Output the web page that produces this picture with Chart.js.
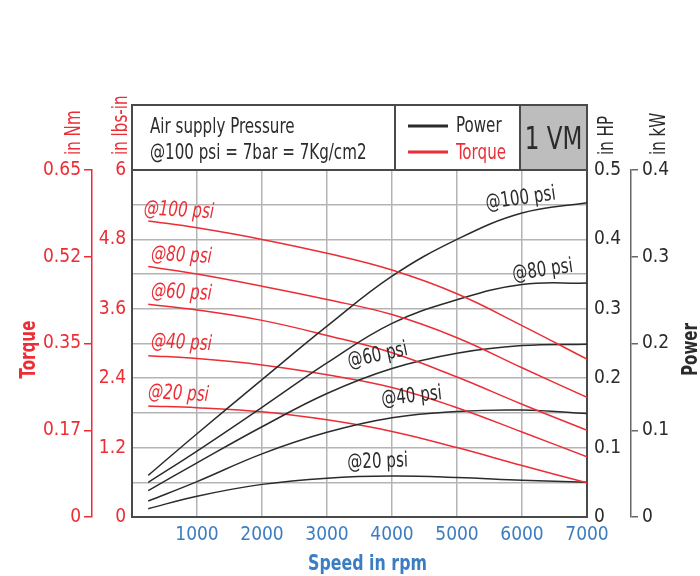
<!DOCTYPE html>
<html>
<head>
<meta charset="utf-8">
<script src="https://cdn.jsdelivr.net/npm/chart.js@4.4.1/dist/chart.umd.min.js"></script>
<style>
html, body { margin: 0; padding: 0; background: #fff; }
</style>
</head>
<body>
<canvas id="myChart" width="700" height="576"></canvas>
<script>
// data
var speedRpm = [250, 1000, 2000, 3000, 4000, 5000, 6000, 7000];
var pressures = ['@100 psi', '@80 psi', '@60 psi', '@40 psi', '@20 psi'];

// torque in lbs-in
var torque100 = [5.12, 5.00, 4.80, 4.56, 4.27, 3.86, 3.31, 2.73];
var torque80 = [4.33, 4.20, 3.99, 3.76, 3.50, 3.10, 2.58, 2.07];
var torque60 = [3.68, 3.58, 3.40, 3.14, 2.84, 2.42, 1.95, 1.50];
var torque40 = [2.79, 2.74, 2.63, 2.46, 2.24, 1.89, 1.47, 1.04];
var torque20 = [1.92, 1.89, 1.82, 1.68, 1.48, 1.20, 0.89, 0.59];

// power in HP
var power100 = [0.060, 0.120, 0.198, 0.275, 0.347, 0.400, 0.438, 0.453];
var power80 = [0.050, 0.095, 0.158, 0.222, 0.279, 0.313, 0.335, 0.337];
var power60 = [0.038, 0.078, 0.130, 0.178, 0.214, 0.236, 0.247, 0.249];
var power40 = [0.023, 0.051, 0.091, 0.122, 0.143, 0.152, 0.154, 0.149];
var power20 = [0.012, 0.030, 0.047, 0.056, 0.059, 0.057, 0.053, 0.050];

// axis ticks
var speedTicks = [1000, 2000, 3000, 4000, 5000, 6000, 7000];
var lbsTicks = [0, 0.6, 1.2, 1.8, 2.4, 3.0, 3.6, 4.2, 4.8, 5.4, 6];
var lbsLabels = ['0', '', '1.2', '', '2.4', '', '3.6', '', '4.8', '', '6'];
var nmTicks = [0, 0.1625, 0.325, 0.4875, 0.65];
var nmLabels = ['0', '0.17', '0.35', '0.52', '0.65'];
var hpTicks = [0, 0.05, 0.1, 0.15, 0.2, 0.25, 0.3, 0.35, 0.4, 0.45, 0.5];
var hpLabels = ['0', '', '0.1', '', '0.2', '', '0.3', '', '0.4', '', '0.5'];
var kwTicks = [0, 0.1, 0.2, 0.3, 0.4];
var kwLabels = ['0', '0.1', '0.2', '0.3', '0.4'];

var RED = '#ec2d35';
var DARK = '#2b2b2b';
var BLUE = '#3c7dc2';
var GRID = '#b4b4b4';
var FRAME = '#4a4a4a';
var FONT = "'DejaVu Sans Condensed', 'DejaVu Sans', sans-serif";
var SX = 0.8; // squeeze drawn text to look like a condensed face

// where the curve names sit (rpm, lbs-in), and their tilt
var torqueTags = [
    {rpm: 175, at: 5.23, rot: 3},
    {rpm: 288, at: 4.45, rot: 3},
    {rpm: 288, at: 3.81, rot: 3},
    {rpm: 288, at: 2.94, rot: 3},
    {rpm: 242, at: 2.06, rot: 3}
];
var powerTags = [
    {rpm: 5980, at: 5.50, rot: -8},
    {rpm: 6318, at: 4.26, rot: -8},
    {rpm: 3780, at: 2.79, rot: -12},
    {rpm: 4303, at: 2.08, rot: -6},
    {rpm: 3780, at: 0.95, rot: -2}
];

function pts(arr) {
    return speedRpm.map(function (x, i) { return {x: x, y: arr[i]}; });
}

function curve(label, arr, axis, color) {
    return {
        label: label,
        data: pts(arr),
        yAxisID: axis,
        borderColor: color,
        borderWidth: 1.5,
        pointRadius: 0,
        fill: false,
        tension: 0.4
    };
}

var torqueSets = [torque100, torque80, torque60, torque40, torque20];
var powerSets = [power100, power80, power60, power40, power20];
var datasets = [];
for (var i = 0; i < 5; i++) {
    datasets.push(curve('Torque ' + pressures[i], torqueSets[i], 'yT', RED));
    datasets.push(curve('Power ' + pressures[i], powerSets[i], 'yHP', DARK));
}

function setTicks(list) {
    return function (scale) {
        scale.ticks = list.map(function (v) { return {value: v}; });
    };
}

// text helper: x,y anchor, rotation in degrees, horizontal squeeze
function txt(ctx, text, x, y, font, color, align, rot, base) {
    ctx.save();
    ctx.translate(x, y);
    ctx.rotate((rot || 0) * Math.PI / 180);
    ctx.scale(SX, 1);
    ctx.font = font;
    ctx.fillStyle = color;
    ctx.textAlign = align || 'left';
    ctx.textBaseline = base || 'alphabetic';
    ctx.fillText(text, 0, 0);
    ctx.restore();
}

var decor = {
    id: 'decor',
    beforeDraw: function (chart) {
        var ctx = chart.ctx;
        ctx.save();
        ctx.fillStyle = '#fff';
        ctx.fillRect(0, 0, chart.width, chart.height);
        ctx.restore();
    },
    afterDatasetsDraw: function (chart) {
        var ctx = chart.ctx;
        var xs = chart.scales.x, ys = chart.scales.yT;
        for (var i = 0; i < pressures.length; i++) {
            var t = torqueTags[i];
            txt(ctx, pressures[i], xs.getPixelForValue(t.rpm), ys.getPixelForValue(t.at),
                'italic 21px ' + FONT, RED, 'left', t.rot);
            var p = powerTags[i];
            txt(ctx, pressures[i], xs.getPixelForValue(p.rpm), ys.getPixelForValue(p.at),
                '21px ' + FONT, DARK, 'center', p.rot, 'middle');
        }
    },
    afterDraw: function (chart) {
        var ctx = chart.ctx;
        var a = chart.chartArea;
        var top = a.top - 65;
        var div1 = a.left + 263, div2 = a.left + 388;

        ctx.save();
        // grey cell
        ctx.fillStyle = '#bdbdbd';
        ctx.fillRect(div2, top, a.right - div2, a.top - top);
        // box outline and dividers
        ctx.strokeStyle = FRAME;
        ctx.lineWidth = 2;
        ctx.strokeRect(a.left, top, a.right - a.left, a.top - top);
        ctx.beginPath();
        ctx.moveTo(div1, top); ctx.lineTo(div1, a.top);
        ctx.moveTo(div2, top); ctx.lineTo(div2, a.top);
        ctx.stroke();

        var f = '21px ' + FONT;
        txt(ctx, 'Air supply Pressure', a.left + 18, top + 28, f, DARK);
        txt(ctx, '@100 psi = 7bar = 7Kg/cm2', a.left + 18, top + 54, f, DARK);

        // legend
        ctx.lineWidth = 3;
        ctx.strokeStyle = DARK;
        ctx.beginPath(); ctx.moveTo(div1 + 13, top + 21); ctx.lineTo(div1 + 53, top + 21); ctx.stroke();
        ctx.strokeStyle = RED;
        ctx.beginPath(); ctx.moveTo(div1 + 13, top + 47); ctx.lineTo(div1 + 53, top + 47); ctx.stroke();
        txt(ctx, 'Power', div1 + 61, top + 27, f, DARK);
        txt(ctx, 'Torque', div1 + 61, top + 54, f, RED);

        txt(ctx, '1 VM', (div2 + a.right) / 2, top + 44, '32px ' + FONT, DARK, 'center');

        // axis unit titles, reading upwards
        txt(ctx, 'in Nm', 80, a.top - 15, f, RED, 'left', -90);
        txt(ctx, 'in lbs-in', 127, a.top - 15, f, RED, 'left', -90);
        txt(ctx, 'in HP', 613, a.top - 15, f, DARK, 'left', -90);
        txt(ctx, 'in kW', 665, a.top - 15, f, DARK, 'left', -90);
        var mid = (a.top + a.bottom) / 2 + 6;
        txt(ctx, 'Torque', 35, mid, 'bold 21px ' + FONT, RED, 'center', -90);
        txt(ctx, 'Power', 697, mid, 'bold 21px ' + FONT, DARK, 'center', -90);

        txt(ctx, 'Speed in rpm', (a.left + a.right) / 2 + 8, chart.height - 6, 'bold 22px ' + FONT, BLUE, 'center');
        ctx.restore();
    }
};

Chart.defaults.font.family = FONT;
Chart.defaults.font.size = 19;

var config = {
    type: 'line',
    data: {datasets: datasets},
    options: {
        responsive: false,
        animation: false,
        layout: {padding: {top: 170, left: 0, right: 29, bottom: 0}},
        plugins: {legend: {display: false}, tooltip: {enabled: false}},
        scales: {
            x: {
                type: 'linear', min: 0, max: 7000,
                afterBuildTicks: setTicks(speedTicks),
                ticks: {color: BLUE, padding: 7, maxRotation: 0, callback: function (v) { return String(v); }},
                grid: {color: GRID, lineWidth: 1.5, drawTicks: false},
                border: {color: FRAME, width: 2},
                afterFit: function (s) { s.height = 59; }
            },
            yNm: {
                position: 'left', weight: 1, min: 0, max: 0.65,
                afterBuildTicks: setTicks(nmTicks),
                ticks: {color: RED, padding: 3, callback: function (v, i) { return nmLabels[i]; }},
                grid: {drawOnChartArea: false, drawTicks: true, tickLength: 8, color: RED, lineWidth: 1.5},
                border: {color: RED, width: 1.5},
                afterFit: function (s) { s.width = 92; }
            },
            yT: {
                position: 'left', weight: 0, min: 0, max: 6,
                afterBuildTicks: setTicks(lbsTicks),
                ticks: {color: RED, padding: 6, callback: function (v, i) { return lbsLabels[i]; }},
                grid: {color: GRID, lineWidth: 1.5, drawTicks: false},
                border: {color: FRAME, width: 2},
                afterFit: function (s) { s.width = 40; }
            },
            yHP: {
                position: 'right', weight: 0, min: 0, max: 0.5,
                afterBuildTicks: setTicks(hpTicks),
                ticks: {color: DARK, padding: 7, callback: function (v, i) { return hpLabels[i]; }},
                grid: {drawOnChartArea: false, drawTicks: false},
                border: {color: FRAME, width: 2},
                afterFit: function (s) { s.width = 44; }
            },
            yKW: {
                position: 'right', weight: 1, min: 0, max: 0.4,
                afterBuildTicks: setTicks(kwTicks),
                ticks: {color: DARK, padding: 4, callback: function (v, i) { return kwLabels[i]; }},
                grid: {drawOnChartArea: false, drawTicks: true, tickLength: 7, color: '#666', lineWidth: 1.5},
                border: {color: '#666', width: 1.5},
                afterFit: function (s) { s.width = 40; }
            }
        }
    },
    plugins: [decor]
};

var ctx = document.getElementById('myChart');
var myChart = new Chart(ctx, config);
</script>
</body>
</html>
